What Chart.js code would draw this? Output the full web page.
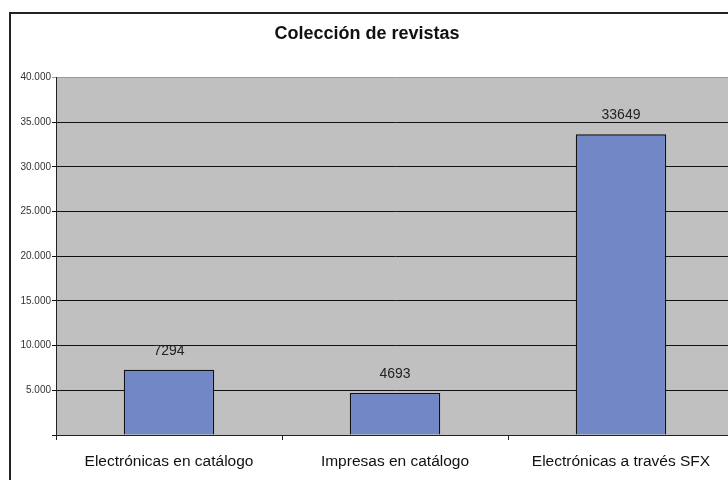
<!DOCTYPE html>
<html>
<head>
<meta charset="utf-8">
<script src="https://cdn.jsdelivr.net/npm/chart.js@4"></script>
<style>
  html, body { margin: 0; padding: 0; background: #fff; overflow: hidden; }
  #frame { position: absolute; left: 9px; top: 12px; width: 900px; height: 600px; border: 2px solid #222; }
  #wrap { position: absolute; left: 0; top: 0; width: 734px; height: 480px; }
</style>
</head>
<body>
<div id="frame"></div>
<div id="wrap"><canvas id="chart"></canvas></div>
<script>
// Chart data
const chartTitle = "Colección de revistas";
const categories = ["Electrónicas en catálogo", "Impresas en catálogo", "Electrónicas a través SFX"];
const values = [7294, 4693, 33649];
const yTicks = [0, 5000, 10000, 15000, 20000, 25000, 30000, 35000, 40000];

const fontFamily = "'Liberation Sans', Arial, sans-serif";

// Grey plot background like the old spreadsheet charts
const plotBackground = {
  id: "plotBackground",
  beforeDraw(chart) {
    const { ctx, chartArea } = chart;
    ctx.save();
    ctx.fillStyle = "#c0c0c0";
    ctx.fillRect(chartArea.left, chartArea.top, chartArea.right - chartArea.left, chartArea.bottom - chartArea.top);
    ctx.restore();
  },
};

// Value labels above each bar
const valueLabels = {
  id: "valueLabels",
  afterDatasetsDraw(chart) {
    const { ctx } = chart;
    const meta = chart.getDatasetMeta(0);
    ctx.save();
    ctx.font = "14px " + fontFamily;
    ctx.fillStyle = "#222";
    ctx.textAlign = "center";
    ctx.textBaseline = "middle";
    meta.data.forEach((bar, i) => {
      ctx.fillText(String(values[i]), bar.x, bar.y - 19);
    });
    ctx.restore();
  },
};

function formatThousands(v) {
  return String(v).replace(/\B(?=(\d{3})+(?!\d))/g, ".");
}

new Chart(document.getElementById("chart"), {
  type: "bar",
  data: {
    labels: categories,
    datasets: [{
      data: values,
      backgroundColor: "#7287c6",
      borderColor: "#111",
      borderWidth: 1.3,
      barPercentage: 0.4,
      categoryPercentage: 1,
    }],
  },
  options: {
    responsive: true,
    maintainAspectRatio: false,
    animation: false,
    layout: { padding: { left: 0, right: 0, top: 0, bottom: 0 } },
    scales: {
      x: {
        grid: {
          drawOnChartArea: false,
          drawTicks: true,
          tickLength: 5,
          color: "#222",
        },
        border: { color: "#222", width: 1 },
        ticks: {
          color: "#111",
          font: { family: fontFamily, size: 15.5 },
          padding: 12,
          maxRotation: 0,
        },
        afterFit(scale) { scale.height = 45; },
      },
      y: {
        min: 0,
        max: 40000,
        afterBuildTicks(scale) {
          scale.ticks = yTicks.map((v) => ({ value: v }));
        },
        grid: {
          color: (c) => (c.tick && c.tick.value === 40000 ? "#999" : "#111"),
          tickLength: 4,
          drawTicks: true,
        },
        border: { color: "#222", width: 1 },
        ticks: {
          color: "#333",
          font: { family: fontFamily, size: 10 },
          padding: 1,
          callback: (v) => (v === 0 ? "" : formatThousands(v)),
        },
        afterFit(scale) { scale.width = 56; },
      },
    },
    plugins: {
      legend: { display: false },
      tooltip: { enabled: false },
      title: {
        display: true,
        text: chartTitle,
        color: "#111",
        font: { family: fontFamily, size: 18, weight: "bold" },
        padding: { top: 23, bottom: 33 },
      },
    },
  },
  plugins: [plotBackground, valueLabels],
});
</script>
</body>
</html>
